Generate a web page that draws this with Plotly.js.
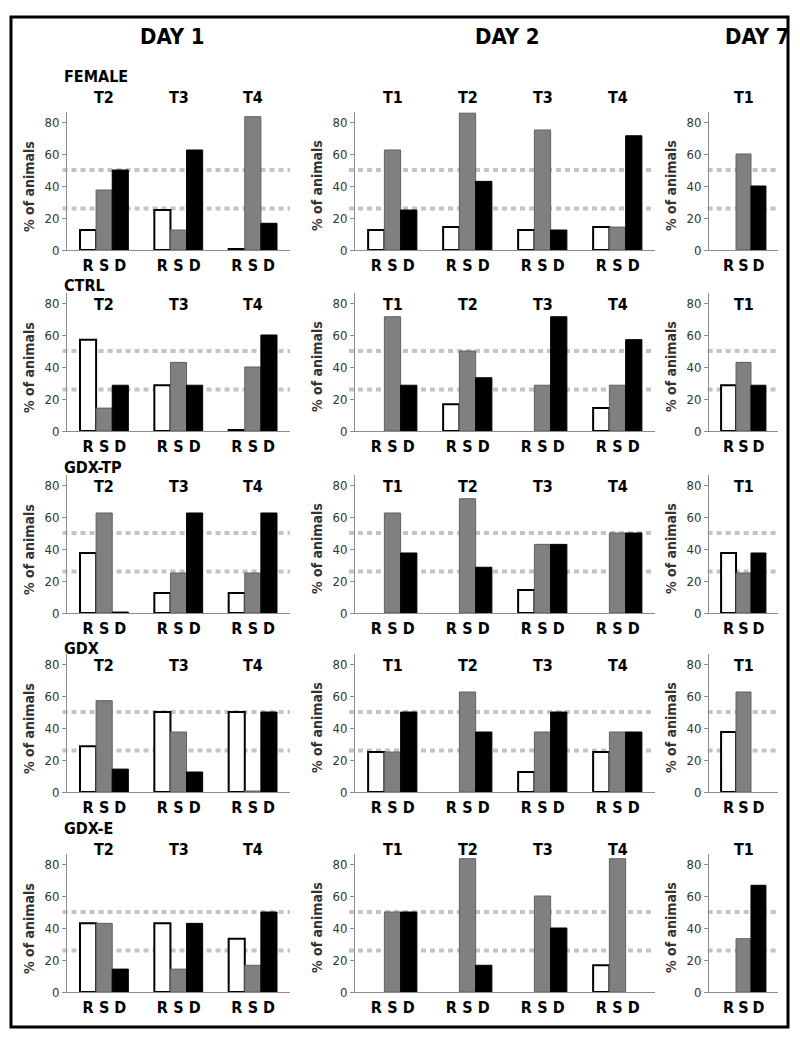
<!DOCTYPE html>
<html>
<head>
<meta charset="utf-8">
<script src="https://cdn.plot.ly/plotly-3.0.1.min.js"></script>
<style>html,body{margin:0;padding:0;background:#fff;}#chart{width:800px;height:1037px;}</style>
</head>
<body>
<div id="chart"></div>
<script>
// ---------- DATA ----------
const groups = ['FEMALE', 'CTRL', 'GDX-TP', 'GDX', 'GDX-E'];
const days = ['DAY 1', 'DAY 2', 'DAY 7'];
const day1Times = ['T2', 'T3', 'T4'];
const day2Times = ['T1', 'T2', 'T3', 'T4'];
const day7Times = ['T1'];
const seriesNames = ['R', 'S', 'D'];
const refHigh = 50;
const refLow = 26;

// values per group: Day1 (T2,T3,T4) | Day2 (T1..T4) | Day7 (T1)
const femaleR = [12.5, 25.0, 0.6,   12.5, 14.3, 12.5, 14.3,   0];
const femaleS = [37.5, 12.5, 83.3,  62.5, 85.7, 75.0, 14.3,   60.0];
const femaleD = [50.0, 62.5, 16.7,  25.0, 42.9, 12.5, 71.4,   40.0];

const ctrlR = [57.1, 28.6, 0.6,   0, 16.7, 0, 14.3,   28.6];
const ctrlS = [14.3, 42.9, 40.0,  71.4, 50.0, 28.6, 28.6,   42.9];
const ctrlD = [28.6, 28.6, 60.0,  28.6, 33.3, 71.4, 57.1,   28.6];

const gdxtpR = [37.5, 12.5, 12.5,  0, 0, 14.3, 0,   37.5];
const gdxtpS = [62.5, 25.0, 25.0,  62.5, 71.4, 42.9, 50.0,   25.0];
const gdxtpD = [0.6, 62.5, 62.5,   37.5, 28.6, 42.9, 50.0,   37.5];

const gdxR = [28.6, 50.0, 50.0,  25.0, 0, 12.5, 25.0,   37.5];
const gdxS = [57.1, 37.5, 0.6,   25.0, 62.5, 37.5, 37.5,   62.5];
const gdxD = [14.3, 12.5, 50.0,  50.0, 37.5, 50.0, 37.5,   0];

const gdxeR = [42.9, 42.9, 33.3,  0, 0, 0, 16.7,   0];
const gdxeS = [42.9, 14.3, 16.7,  50.0, 83.3, 60.0, 83.3,   33.3];
const gdxeD = [14.3, 42.9, 50.0,  50.0, 16.7, 40.0, 0,   66.7];

const seriesByGroup = [
  [femaleR, femaleS, femaleD],
  [ctrlR, ctrlS, ctrlD],
  [gdxtpR, gdxtpS, gdxtpD],
  [gdxR, gdxS, gdxD],
  [gdxeR, gdxeS, gdxeD]
];
const timesByDay = [day1Times, day2Times, day7Times];

// ---------- LAYOUT / STYLE ----------
const W = 800, H = 1037;
const FONT = '"Liberation Sans Narrow", "DejaVu Sans Condensed", "Liberation Sans", Arial, sans-serif';
const panelX = [[67, 290], [355, 655], [709, 778]];
const rowZero = [250, 431, 613, 792, 992];
const pxPerUnit = 1.6;
const yMax = 86;
const tLabelY = [98, 304, 486, 665, 849];
const rowLabelY = [77, 286, 468, 648, 828];
const dayTitleX = [172, 507, 757];
const dayTitleY = 36;
const bargap = 0.35;
const barW = (1 - bargap) / 3;
const seriesStyle = [
  {color: '#ffffff', line: {color: '#000000', width: 2}},
  {color: '#808080', line: {color: '#606060', width: 1}},
  {color: '#000000', line: {color: '#000000', width: 1}}
];
const fx = p => p / W;
const fy = p => 1 - p / H;

const traces = [];
const layout = {
  width: W, height: H,
  margin: {l: 0, r: 0, t: 0, b: 0},
  paper_bgcolor: '#ffffff', plot_bgcolor: 'rgba(0,0,0,0)',
  barmode: 'group', bargap: bargap, bargroupgap: 0,
  showlegend: false,
  font: {family: FONT, color: '#000'},
  annotations: [], shapes: []
};

const offsetIdx = [0, 3, 7];
groups.forEach((g, r) => {
  layout.annotations.push({
    text: '<b>' + g + '</b>', xref: 'paper', yref: 'paper',
    x: fx(62), y: fy(rowLabelY[r]), xanchor: 'left', yanchor: 'middle',
    showarrow: false, font: {size: 16, family: FONT, color: '#000'}
  });
  days.forEach((d, c) => {
    const k = r * 3 + c + 1;
    const xa = 'x' + (k === 1 ? '' : k), ya = 'y' + (k === 1 ? '' : k);
    const xKey = 'xaxis' + (k === 1 ? '' : k), yKey = 'yaxis' + (k === 1 ? '' : k);
    const times = timesByDay[c];
    const n = times.length;
    const idx = times.map((t, i) => i);
    seriesNames.forEach((s, si) => {
      const vals = seriesByGroup[r][si].slice(offsetIdx[c], offsetIdx[c] + n)
        .map(v => (v === 0 ? null : v));
      traces.push({
        type: 'bar', name: s, x: idx, y: vals, xaxis: xa, yaxis: ya,
        offsetgroup: s, marker: seriesStyle[si], hoverinfo: 'skip'
      });
    });
    const tv = [], tt = [];
    idx.forEach(i => { seriesNames.forEach((s, si) => { tv.push(i + (si - 1) * barW); tt.push('<b>' + s + '</b>'); }); });
    const y0 = rowZero[r], y1 = rowZero[r] - yMax * pxPerUnit;
    layout[xKey] = {
      domain: [fx(panelX[c][0]), fx(panelX[c][1])], anchor: ya,
      range: [-0.5, n - 0.5], showline: true, linecolor: '#8c8c8c', linewidth: 1,
      ticks: '', tickvals: tv, ticktext: tt, showgrid: false, zeroline: false,
      tickfont: {size: 16, family: FONT, color: '#000'}, ticklabelstandoff: 1, fixedrange: true
    };
    layout[yKey] = {
      domain: [fy(y0), fy(y1)], anchor: xa,
      range: [0, yMax], showline: true, linecolor: '#8c8c8c', linewidth: 1,
      ticks: 'outside', ticklen: 4, tickcolor: '#8c8c8c', tickvals: [0, 20, 40, 60, 80],
      showgrid: false, zeroline: false,
      tickfont: {size: 13, family: FONT, color: '#333'}, fixedrange: true
    };
    [refHigh, refLow].forEach(v => {
      layout.shapes.push({
        type: 'line', layer: 'below', xref: xa + ' domain', yref: ya,
        x0: -0.02, x1: 1, y0: v, y1: v,
        line: {color: '#c4c4c4', width: 4, dash: '5px,4px'}
      });
    });
    times.forEach((t, i) => {
      layout.annotations.push({
        text: '<b>' + t + '</b>', xref: xa, yref: 'paper', x: i, y: fy(tLabelY[r]),
        xanchor: 'center', yanchor: 'middle', showarrow: false,
        font: {size: 16, family: FONT, color: '#000'}
      });
    });
    layout.annotations.push({
      text: '<b>% of animals</b>', xref: 'paper', yref: 'paper',
      x: fx(panelX[c][0] - 38), y: fy(rowZero[r] - 40 * pxPerUnit),
      textangle: -90, xanchor: 'center', yanchor: 'middle', showarrow: false,
      font: {size: 14, family: FONT, color: '#333'}
    });
  });
});

days.forEach((d, c) => {
  layout.annotations.push({
    text: '<b>' + d + '</b>', xref: 'paper', yref: 'paper',
    x: fx(dayTitleX[c]), y: fy(dayTitleY), xanchor: 'center', yanchor: 'middle',
    showarrow: false, font: {size: 22, family: FONT, color: '#000'}
  });
});

layout.shapes.push({
  type: 'rect', xref: 'paper', yref: 'paper',
  x0: fx(11), x1: fx(788), y0: fy(17), y1: fy(1027),
  line: {color: '#000', width: 3}, fillcolor: 'rgba(0,0,0,0)', layer: 'above'
});

Plotly.newPlot('chart', traces, layout, {staticPlot: true, displayModeBar: false});
</script>
</body>
</html>
